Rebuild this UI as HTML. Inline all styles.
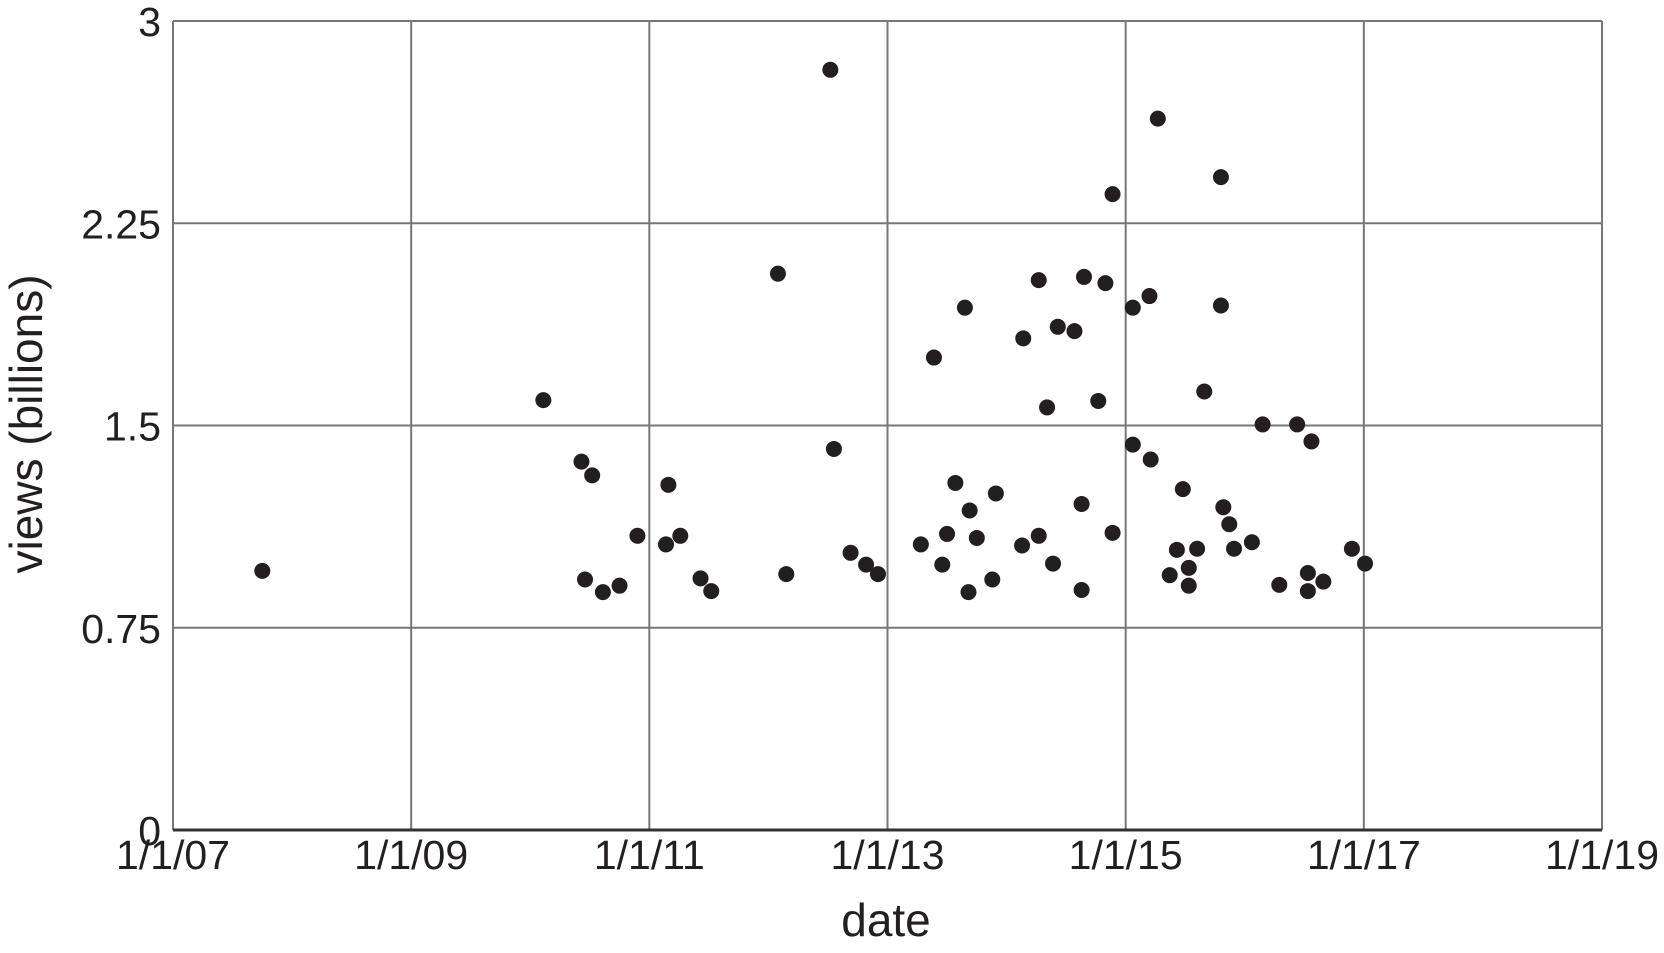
<!DOCTYPE html>
<html><head><meta charset="utf-8"><style>
html,body{margin:0;padding:0;background:#fff;}
svg{display:block;font-family:"Liberation Sans",sans-serif;}
</style></head><body>
<svg id="chart" width="1664" height="953">
<g id="grid"></g>
<g id="ticks"></g>
<g id="dots"></g>
<text x="886" y="936" font-size="46" text-anchor="middle" fill="#231f20">date</text>
<text transform="translate(42,424) rotate(-90)" font-size="46" text-anchor="middle" fill="#231f20">views (billions)</text>
</svg>
<script>
const xTickYears=[2007,2009,2011,2013,2015,2017,2019];
const xTickLabels=["1/1/07","1/1/09","1/1/11","1/1/13","1/1/15","1/1/17","1/1/19"];
const yTicks=[0,0.75,1.5,2.25,3];
const yTickLabels=["0","0.75","1.5","2.25","3"];
const dates=[2007.75,2010.11,2010.43,2010.52,2010.46,2010.61,2010.75,2010.90,2011.14,2011.16,2011.26,2011.43,2011.52,2012.08,2012.15,2012.52,2012.55,2012.69,2012.82,2012.92,2013.28,2013.39,2013.46,2013.50,2013.57,2013.65,2013.68,2013.69,2013.75,2013.88,2013.91,2014.13,2014.14,2014.27,2014.27,2014.34,2014.39,2014.43,2014.57,2014.63,2014.63,2014.65,2014.77,2014.83,2014.89,2014.89,2015.06,2015.06,2015.20,2015.21,2015.27,2015.37,2015.43,2015.48,2015.53,2015.53,2015.60,2015.66,2015.80,2015.80,2015.82,2015.87,2015.91,2016.06,2016.15,2016.29,2016.44,2016.53,2016.53,2016.56,2016.66,2016.90,2017.01];
const views=[0.961,1.594,1.366,1.315,0.929,0.882,0.906,1.091,1.059,1.280,1.091,0.933,0.886,2.063,0.949,2.819,1.413,1.028,0.984,0.949,1.059,1.752,0.984,1.098,1.287,1.937,0.882,1.185,1.083,0.929,1.248,1.055,1.823,2.039,1.091,1.567,0.988,1.866,1.850,1.209,0.890,2.051,1.591,2.028,2.358,1.102,1.937,1.429,1.980,1.374,2.638,0.945,1.039,1.264,0.972,0.906,1.043,1.626,2.421,1.945,1.197,1.134,1.043,1.067,1.504,0.909,1.504,0.953,0.886,1.441,0.921,1.043,0.988];
const L=173,R=1602,T=21,B=830;
const xs=y=>L+(y-2007)/(2019-2007)*(R-L);
const ys=v=>B-v/3*(B-T);
const NS="http://www.w3.org/2000/svg";
function mk(tag,parent,attrs){const e=document.createElementNS(NS,tag);for(const k in attrs)e.setAttribute(k,attrs[k]);parent.appendChild(e);return e;}
const grid=document.getElementById('grid'),ticks=document.getElementById('ticks'),dots=document.getElementById('dots');
xTickYears.forEach((yr,i)=>{
  const l=mk('line',grid,{x1:xs(yr),x2:xs(yr),y1:T,y2:B,stroke:'#777','stroke-width':2});
  
  
  const t=mk('text',ticks,{x:xs(yr),y:869,'font-size':41,'text-anchor':'middle',fill:'#231f20'});
  t.textContent=xTickLabels[i];
  
  
});
yTicks.forEach((v,i)=>{
  const l=mk('line',grid,{x1:L,x2:R,y1:ys(v),y2:ys(v),stroke:'#777','stroke-width':2});
  
  
  const t=mk('text',ticks,{x:161,y:ys(v)+15,'font-size':41,'text-anchor':'end',fill:'#231f20'});
  t.textContent=yTickLabels[i];
  
  
});
const ax=mk('line',grid,{x1:L,x2:R,y1:B,y2:B,stroke:'#333','stroke-width':3});


dates.forEach((d,i)=>{
  const c=mk('circle',dots,{cx:xs(d),cy:ys(views[i]),r:8,fill:'#231f20'});
  
  
});
</script>
</body></html>
